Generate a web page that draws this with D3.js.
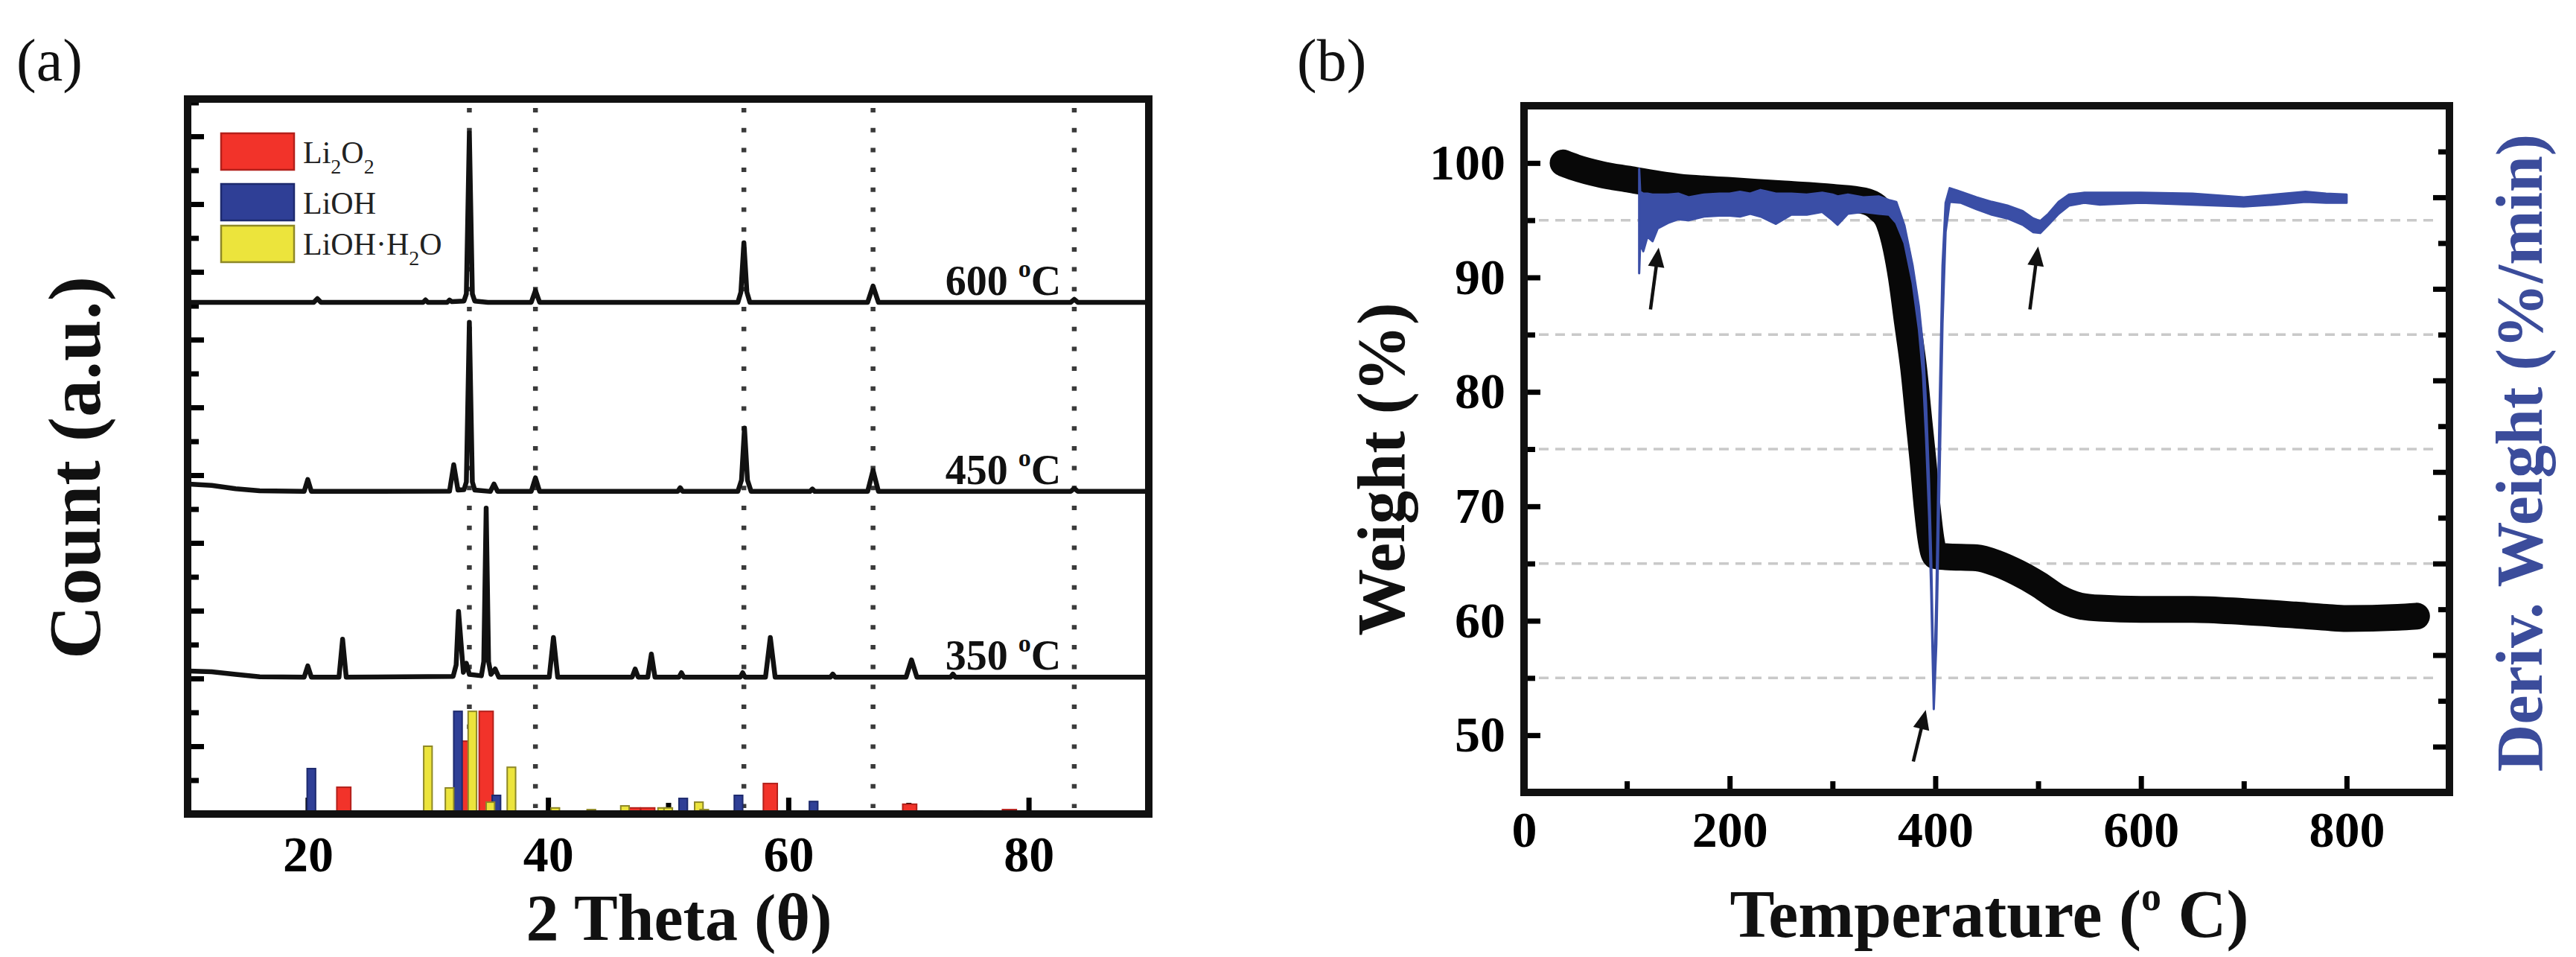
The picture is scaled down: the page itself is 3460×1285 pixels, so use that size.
<!DOCTYPE html>
<html>
<head>
<meta charset="utf-8">
<script src="https://cdn.jsdelivr.net/npm/d3@7/dist/d3.min.js"></script>
<style>
html,body{margin:0;padding:0;background:#fff;}
svg{display:block;}
</style>
</head>
<body>
<svg id="chart" width="3460" height="1285" xmlns="http://www.w3.org/2000/svg"></svg>
<script>
// ================= DATA =================
// ---- Panel (a): XRD ----
const xrdXTicks = [20, 40, 60, 80];
const xrdXMinorTicks = [30, 50, 70];
const countTicksMajor = [200, 400, 600, 800, 1000, 1200, 1400, 1600, 1800, 2000];
const countTicksMinor = [100, 300, 500, 700, 900, 1100, 1300, 1500, 1700, 1900, 2100];
const refLines2Theta = [33.45, 38.95, 56.3, 67.05, 83.8];

const xrd600 = [[10,1510],[20.5,1510],[20.8,1521],[21.1,1510],[29.6,1510],[29.8,1517],[30.0,1510],[31.6,1510],[31.8,1517],[32.0,1512],[33.0,1514],[33.2,1535],[33.45,2010],[33.7,1535],[33.9,1514],[35.0,1510],[38.6,1510],[38.95,1545],[39.3,1510],[55.8,1510],[56.05,1540],[56.3,1686],[56.55,1540],[56.8,1510],[66.6,1510],[67.05,1558],[67.5,1510],[83.5,1510],[83.8,1519],[84.1,1510],[90,1510]];
const xrd450 = [[10,974],[12,970],[14,960],[16,954],[19.7,952],[20.0,987],[20.3,952],[31.8,953],[32.15,1031],[32.5,956],[33.0,957],[33.2,980],[33.45,1451],[33.7,980],[33.9,956],[35.2,952],[35.5,974],[35.8,952],[38.6,952],[38.95,992],[39.3,952],[50.8,952],[51.0,963],[51.2,952],[55.8,952],[56.1,985],[56.35,1139],[56.6,985],[56.9,952],[61.8,952],[62.0,959],[62.2,952],[66.6,952],[67.05,1014],[67.5,952],[83.5,952],[83.8,961],[84.1,952],[90,952]];
const xrd350 = [[10,422],[12,420],[14,412],[16,405],[19.7,404],[20.0,437],[20.3,404],[22.6,404],[22.9,516],[23.2,404],[32.1,406],[32.35,440],[32.55,598],[32.95,418],[33.2,445],[33.45,412],[34.45,408],[34.65,450],[34.85,903],[35.05,450],[35.25,412],[35.6,428],[35.9,404],[40.1,404],[40.45,521],[40.8,404],[47.0,404],[47.25,428],[47.5,404],[48.3,404],[48.6,472],[48.9,404],[50.9,404],[51.1,417],[51.3,404],[56.0,404],[56.2,417],[56.4,404],[58.1,404],[58.5,521],[58.9,404],[63.5,404],[63.7,413],[63.9,404],[69.8,404],[70.25,455],[70.7,404],[73.5,404],[73.7,413],[73.9,404],[90,404]];
const curveTemps = ['600', '450', '350'];
const curveBaselines = [1510, 952, 404];

// reference patterns (2θ, top value on the count axis)
const li2o2Pos = [23.0, 33.1, 34.85, 47.1, 48.3, 58.5, 70.1, 78.4];
const li2o2Val = [79, 215, 303, 18, 18, 90, 29, 13];
const liohPos = [20.3, 32.5, 35.7, 51.25, 55.85, 62.1, 75.8];
const liohVal = [134, 303, 55, 46, 55, 37, 9];
const liohH2oPos = [21.47, 25.75, 30.0, 31.8, 33.7, 35.2, 36.95, 40.6, 43.6, 46.4, 49.5, 50.0, 52.55, 53.0, 55.3, 57.6, 63.6, 64.6, 65.5, 69.5];
const liohH2oVal = [7, 5, 200, 77, 303, 35, 138, 18, 13, 24, 18, 18, 35, 13, 5, 5, 5, 5, 5, 5];

// ---- Panel (b): TGA / DTG ----
const tempTicks = [0, 200, 400, 600, 800];
const tempMinorTicks = [100, 300, 500, 700];
const weightTicks = [50, 60, 70, 80, 90, 100];
const weightMinorTicks = [55, 65, 75, 85, 95];
const gridWeights = [95, 85, 75, 65, 55];
const derivTicksMajor = [-6, -5, -4, -3, -2, -1, 0];
const derivTicksMinor = [-5.5, -4.5, -3.5, -2.5, -1.5, -0.5, 0.5];

const tgaT = [38, 50, 75, 100, 150, 200, 250, 300, 330, 345, 355, 362, 367, 373, 379, 384, 388, 392, 396, 400, 410, 440, 460, 480, 500, 520, 540, 560, 600, 650, 700, 750, 780, 800, 850, 868];
const tgaW = [100.0, 99.6, 99.0, 98.6, 97.9, 97.6, 97.3, 97.0, 96.7, 96.0, 94.8, 92.5, 90.0, 86.0, 82.0, 77.5, 74.0, 70.0, 67.0, 65.7, 65.6, 65.5, 65.0, 64.2, 63.2, 62.0, 61.3, 61.1, 61.0, 61.0, 60.8, 60.5, 60.3, 60.2, 60.3, 60.4];

const dtgT  = [112, 113, 116, 120, 125, 130, 140, 150, 160, 175, 190, 200, 210, 220, 230, 245, 260, 275, 290, 300, 305, 315, 330, 345, 355, 362, 370, 378, 384, 388, 391, 394, 396, 398.5, 401, 404, 407, 410, 414, 425, 440, 455, 470, 485, 495, 502, 510, 520, 530, 545, 560, 600, 650, 700, 730, 760, 780, 800];
const dtgLo = [-0.83, -0.50, -0.59, -0.43, -0.48, -0.34, -0.28, -0.24, -0.25, -0.21, -0.20, -0.20, -0.21, -0.18, -0.21, -0.29, -0.19, -0.19, -0.16, -0.25, -0.30, -0.18, -0.16, -0.18, -0.19, -0.28, -0.50, -0.94, -1.44, -1.94, -2.63, -3.50, -4.31, -5.59, -4.88, -3.13, -1.38, -0.38, -0.05, -0.06, -0.13, -0.19, -0.23, -0.30, -0.38, -0.39, -0.30, -0.18, -0.09, -0.06, -0.08, -0.06, -0.08, -0.10, -0.08, -0.05, -0.06, -0.06];
const dtgHi = [0.31, 0.06, 0.04, 0.04, 0.03, 0.03, 0.03, 0.04, 0.00, 0.03, 0.04, 0.04, 0.06, 0.04, 0.08, 0.04, 0.04, 0.03, 0.05, 0.03, 0.01, 0.03, 0.00, 0.01, -0.03, -0.05, -0.31, -0.75, -1.19, -1.63, -2.25, -3.13, -3.94, -5.44, -4.38, -2.38, -0.75, -0.06, 0.10, 0.06, 0.00, -0.05, -0.09, -0.15, -0.23, -0.26, -0.18, -0.05, 0.03, 0.05, 0.05, 0.05, 0.04, 0.00, 0.03, 0.06, 0.04, 0.03];

// annotation arrows (temperature, weight): tail -> tip
const arrowTails = [[123, 87.2], [492, 87.2], [378.6, 47.7]];
const arrowTips  = [[131, 92.6], [500, 92.7], [390.7, 52.2]];

// ================= DRAWING =================
const SERIF = '"Liberation Serif", "Times New Roman", Times, serif';
const svg = d3.select('#chart');
svg.append('rect').attr('width', 3460).attr('height', 1285).attr('fill', '#fff');

function styleAxis(g, size) {
  g.select('.domain').remove();
  g.attr('font-family', SERIF).attr('font-size', size).attr('font-weight', 'bold');
  g.selectAll('.tick line').attr('stroke', '#000').attr('stroke-width', 7);
  g.selectAll('.tick text').attr('fill', '#000');
}

// ---------- Panel (a) ----------
const A = {left: 252, right: 1543, top: 133, bottom: 1093};
const xA = d3.scaleLinear().domain([10, 90]).range([A.left, A.right]);
const yA = d3.scaleLinear().domain([0, 2110]).range([A.bottom, A.top]);
const gA = svg.append('g');

// ticks (inward)
gA.append('g').attr('transform', `translate(0,${A.bottom})`)
  .call(d3.axisBottom(xA).tickValues(xrdXTicks).tickSizeInner(-22).tickSizeOuter(0).tickPadding(29).tickFormat(d3.format('d')))
  .call(g => styleAxis(g, 68));
gA.append('g').attr('transform', `translate(0,${A.bottom})`)
  .call(d3.axisBottom(xA).tickValues(xrdXMinorTicks).tickSizeInner(-15).tickSizeOuter(0).tickFormat(''))
  .call(g => styleAxis(g, 68));
gA.append('g').attr('transform', `translate(${A.left},0)`)
  .call(d3.axisLeft(yA).tickValues(countTicksMajor).tickSizeInner(-22).tickSizeOuter(0).tickFormat(''))
  .call(g => styleAxis(g, 68));
gA.append('g').attr('transform', `translate(${A.left},0)`)
  .call(d3.axisLeft(yA).tickValues(countTicksMinor).tickSizeInner(-15).tickSizeOuter(0).tickFormat(''))
  .call(g => styleAxis(g, 68));

// dotted reference lines
gA.append('g').selectAll('line').data(refLines2Theta).join('line')
  .attr('x1', d => xA(d)).attr('x2', d => xA(d))
  .attr('y1', A.top + 12).attr('y2', A.bottom - 8)
  .attr('stroke', '#3a3a3a').attr('stroke-width', 6.5)
  .attr('stroke-dasharray', '6 20.7');

// reference bars
function bars(pos, val, halfW, fill, stroke) {
  gA.append('g').selectAll('rect').data(pos.map((p, i) => [p, val[i]])).join('rect')
    .attr('x', d => xA(d[0] - halfW))
    .attr('width', d => xA(d[0] + halfW) - xA(d[0] - halfW))
    .attr('y', d => yA(d[1]))
    .attr('height', d => yA(0) - yA(d[1]))
    .attr('fill', fill).attr('stroke', stroke).attr('stroke-width', 2);
}
bars(li2o2Pos, li2o2Val, 0.58, '#f2332a', '#b3201b');
bars(liohPos, liohVal, 0.35, '#2f3f96', '#1d2a6e');
bars(liohH2oPos, liohH2oVal, 0.35, '#ece43c', '#8e8826');

// XRD curves
const lineA = d3.line().x(d => xA(d[0])).y(d => yA(d[1]));
[xrd600, xrd450, xrd350].forEach(s => {
  gA.append('path').datum(s).attr('d', lineA)
    .attr('fill', 'none').attr('stroke', '#111').attr('stroke-width', 6.5)
    .attr('stroke-linejoin', 'round');
});

// curve labels
curveTemps.forEach((t, i) => {
  const tx = gA.append('text')
    .attr('x', xA(82.7)).attr('y', yA(curveBaselines[i]) - 10)
    .attr('text-anchor', 'end').attr('font-family', SERIF)
    .attr('font-weight', 'bold').attr('font-size', 56).attr('fill', '#111');
  tx.append('tspan').text(t + ' ');
  tx.append('tspan').attr('font-size', 34).attr('dy', -24).text('o');
  tx.append('tspan').attr('dy', 24).text('C');
});

// legend
const legendItems = [
  {fill: '#f2332a', stroke: '#b3201b', parts: [['Li', 0], ['2', 1], ['O', 0], ['2', 1]]},
  {fill: '#2f3f96', stroke: '#1d2a6e', parts: [['LiOH', 0]]},
  {fill: '#ece43c', stroke: '#8e8826', parts: [['LiOH\u00B7H', 0], ['2', 1], ['O', 0]]}
];
const legendBoxY = [179, 247, 303];
const legendTextY = [219, 287, 342];
legendItems.forEach((it, i) => {
  gA.append('rect').attr('x', 297).attr('y', legendBoxY[i]).attr('width', 98).attr('height', 49)
    .attr('fill', it.fill).attr('stroke', it.stroke).attr('stroke-width', 2.5);
  const tx = gA.append('text').attr('x', 407).attr('y', legendTextY[i])
    .attr('font-family', SERIF).attr('font-size', 42).attr('fill', '#222');
  let sub = 0;
  it.parts.forEach(([s, isSub]) => {
    const shift = (isSub ? 14 : 0) - sub;
    tx.append('tspan').attr('font-size', isSub ? 28 : 42).attr('dy', shift).text(s);
    sub = isSub ? 14 : 0;
  });
});

// frame
gA.append('rect').attr('x', A.left).attr('y', A.top)
  .attr('width', A.right - A.left).attr('height', A.bottom - A.top)
  .attr('fill', 'none').attr('stroke', '#111').attr('stroke-width', 10);

// axis titles
gA.append('text').attr('x', 912).attr('y', 1262).attr('text-anchor', 'middle')
  .attr('font-family', SERIF).attr('font-weight', 'bold').attr('font-size', 88).attr('fill', '#111')
  .text('2 Theta (\u03B8)');
gA.append('text').attr('transform', 'translate(134,628) rotate(-90)').attr('text-anchor', 'middle')
  .attr('font-family', SERIF).attr('font-weight', 'bold').attr('font-size', 100).attr('fill', '#111')
  .text('Count (a.u.)');
gA.append('text').attr('x', 22).attr('y', 108)
  .attr('font-family', SERIF).attr('font-size', 80).attr('fill', '#111').text('(a)');

// ---------- Panel (b) ----------
const B = {left: 2047, right: 3290, top: 142, bottom: 1064};
const xB = d3.scaleLinear().domain([0, 900]).range([B.left, B.right]);
const yB = d3.scaleLinear().domain([45, 105]).range([B.bottom, B.top]);
const yD = d3.scaleLinear().domain([-6.5, 1.0]).range([B.bottom, B.top]);
const gB = svg.append('g');

// dashed grid
gB.append('g').selectAll('line').data(gridWeights).join('line')
  .attr('x1', B.left + 20).attr('x2', B.right - 20)
  .attr('y1', d => yB(d)).attr('y2', d => yB(d))
  .attr('stroke', '#c9c9c9').attr('stroke-width', 3.5).attr('stroke-dasharray', '13 9');

// ticks
gB.append('g').attr('transform', `translate(0,${B.bottom})`)
  .call(d3.axisBottom(xB).tickValues(tempTicks).tickSizeInner(-22).tickSizeOuter(0).tickPadding(25).tickFormat(d3.format('d')))
  .call(g => styleAxis(g, 68));
gB.append('g').attr('transform', `translate(0,${B.bottom})`)
  .call(d3.axisBottom(xB).tickValues(tempMinorTicks).tickSizeInner(-15).tickSizeOuter(0).tickFormat(''))
  .call(g => styleAxis(g, 68));
gB.append('g').attr('transform', `translate(${B.left},0)`)
  .call(d3.axisLeft(yB).tickValues(weightTicks).tickSizeInner(-22).tickSizeOuter(0).tickPadding(25).tickFormat(d3.format('d')))
  .call(g => styleAxis(g, 68));
gB.append('g').attr('transform', `translate(${B.left},0)`)
  .call(d3.axisLeft(yB).tickValues(weightMinorTicks).tickSizeInner(-15).tickSizeOuter(0).tickFormat(''))
  .call(g => styleAxis(g, 68));
gB.append('g').attr('transform', `translate(${B.right},0)`)
  .call(d3.axisRight(yD).tickValues(derivTicksMajor).tickSizeInner(-22).tickSizeOuter(0).tickFormat(''))
  .call(g => styleAxis(g, 68));
gB.append('g').attr('transform', `translate(${B.right},0)`)
  .call(d3.axisRight(yD).tickValues(derivTicksMinor).tickSizeInner(-15).tickSizeOuter(0).tickFormat(''))
  .call(g => styleAxis(g, 68));

// TGA curve (thick black)
const tga = tgaT.map((t, i) => [t, tgaW[i]]);
gB.append('path').datum(tga)
  .attr('d', d3.line().x(d => xB(d[0])).y(d => yB(d[1])).curve(d3.curveMonotoneX))
  .attr('fill', 'none').attr('stroke', '#080808').attr('stroke-width', 36)
  .attr('stroke-linecap', 'round').attr('stroke-linejoin', 'round');

// DTG curve (blue noisy band)
const dtg = dtgT.map((t, i) => [t, dtgLo[i], dtgHi[i]]);
gB.append('path').datum(dtg)
  .attr('d', d3.area().x(d => xB(d[0])).y0(d => yD(d[1])).y1(d => yD(d[2])))
  .attr('fill', '#3a4ea6').attr('stroke', '#3a4ea6').attr('stroke-width', 3)
  .attr('stroke-linejoin', 'round');

// arrows
arrowTails.forEach((tail, i) => {
  const p1 = [xB(tail[0]), yB(tail[1])];
  const p2 = [xB(arrowTips[i][0]), yB(arrowTips[i][1])];
  const dx = p2[0] - p1[0], dy = p2[1] - p1[1];
  const L = Math.hypot(dx, dy), ux = dx / L, uy = dy / L;
  const hl = 26, hw = 11;
  const bx = p2[0] - ux * hl, by = p2[1] - uy * hl;
  gB.append('line').attr('x1', p1[0]).attr('y1', p1[1]).attr('x2', bx + ux * 2).attr('y2', by + uy * 2)
    .attr('stroke', '#111').attr('stroke-width', 4.5);
  gB.append('path')
    .attr('d', `M${p2[0]},${p2[1]} L${bx - uy * hw},${by + ux * hw} L${bx + uy * hw},${by - ux * hw} Z`)
    .attr('fill', '#111');
});

// frame
gB.append('rect').attr('x', B.left).attr('y', B.top)
  .attr('width', B.right - B.left).attr('height', B.bottom - B.top)
  .attr('fill', 'none').attr('stroke', '#111').attr('stroke-width', 10);

// titles
const tT = gB.append('text').attr('x', 2672).attr('y', 1258).attr('text-anchor', 'middle')
  .attr('font-family', SERIF).attr('font-weight', 'bold').attr('font-size', 90).attr('fill', '#111');
tT.append('tspan').text('Temperature (');
tT.append('tspan').attr('font-size', 54).attr('dy', -36).text('o');
tT.append('tspan').attr('dy', 36).text(' C)');
gB.append('text').attr('transform', 'translate(1886,630) rotate(-90)').attr('text-anchor', 'middle')
  .attr('font-family', SERIF).attr('font-weight', 'bold').attr('font-size', 90).attr('fill', '#111')
  .text('Weight (%)');
gB.append('text').attr('transform', 'translate(3414,608) rotate(-90)').attr('text-anchor', 'middle')
  .attr('font-family', SERIF).attr('font-weight', 'bold').attr('font-size', 88).attr('fill', '#3b4c9b')
  .text('Deriv. Weight (%/min)');
gB.append('text').attr('x', 1742).attr('y', 108)
  .attr('font-family', SERIF).attr('font-size', 80).attr('fill', '#111').text('(b)');
</script>
</body>
</html>
